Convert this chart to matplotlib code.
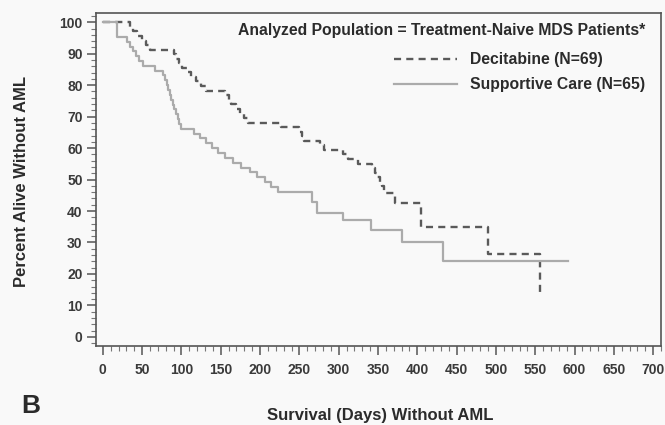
import matplotlib
matplotlib.use("Agg")
import matplotlib.pyplot as plt
from matplotlib.ticker import MultipleLocator

plt.rcParams['font.family'] = ['Liberation Sans', 'DejaVu Sans']
plt.rcParams['font.weight'] = 'bold'

# Kaplan-Meier steps: (day, percent alive without AML after the event)
deci_days = [0, 34, 39, 44, 50, 55, 60, 90, 93, 97, 101, 107, 112, 118, 125, 131,
             156, 160, 163, 169, 175, 180, 185, 227, 250, 253, 256, 276, 281, 305,
             312, 325, 343, 346, 349, 352, 355, 358, 372, 405, 490, 556]
deci_vals = [100, 98.6, 97.1, 95.7, 94.2, 92.8, 91.3, 89.9, 88.4, 87.0, 85.5, 84.1,
             82.6, 81.2, 79.7, 78.3, 76.8, 75.4, 73.9, 72.5, 71.0, 69.6, 68.1, 66.7,
             65.2, 63.8, 62.3, 60.9, 59.4, 58.0, 56.5, 55.1, 53.6, 52.2, 50.7, 49.3,
             47.8, 45.7, 42.6, 35.0, 26.4, 13.2]
deci_end = 556

supp_days = [0, 18, 31, 34, 38, 42, 46, 51, 66, 77, 79, 81, 83, 85, 87, 89, 91, 93,
             95, 97, 99, 116, 124, 131, 139, 147, 156, 165, 176, 187, 196, 206,
             214, 223, 266, 272, 305, 341, 380, 433]
supp_vals = [100, 95.4, 93.8, 92.3, 90.8, 89.2, 87.7, 86.2, 84.6, 83.1, 81.5, 80.0,
             78.5, 76.9, 75.4, 73.8, 72.3, 70.8, 69.2, 67.7, 66.2, 64.6, 63.1, 61.5,
             60.0, 58.5, 56.9, 55.4, 53.8, 52.3, 50.8, 49.2, 47.7, 46.2, 42.8, 39.5,
             37.0, 33.9, 30.2, 24.1]
supp_end = 592

labels = ['Decitabine (N=69)', 'Supportive Care (N=65)']
header = 'Analyzed Population = Treatment-Naive MDS Patients*'

bg = '#f9f9f9'
txt = '#2b2b2b'

fig = plt.figure(figsize=(6.65, 4.25), dpi=100, facecolor=bg)
ax = fig.add_axes([0.144, 0.186, 0.850, 0.783], facecolor=bg)

l1, = ax.step(deci_days + [deci_end], deci_vals + [deci_vals[-1]], where='post',
              color='#5a5a5a', lw=1.7, dashes=(3, 2.2))
l2, = ax.step(supp_days + [supp_end], supp_vals + [supp_vals[-1]], where='post',
              color='#ababab', lw=1.6)

ax.set_xlim(-9, 710)
ax.set_ylim(-2.9, 102.9)
ax.xaxis.set_major_locator(MultipleLocator(50))
ax.xaxis.set_minor_locator(MultipleLocator(10))
ax.yaxis.set_major_locator(MultipleLocator(10))
ax.yaxis.set_minor_locator(MultipleLocator(2))
ax.tick_params(which='major', length=6.5, width=1.1, color='#555555',
               labelsize=10, labelcolor='#3a3a3a')
ax.tick_params(axis='x', which='major', pad=6)
ax.tick_params(axis='y', which='major', pad=3)
ax.tick_params(which='minor', length=3.5, width=0.8, color='#777777')
for s in ax.spines.values():
    s.set_color('#555555')
    s.set_linewidth(1.2)

ax.set_ylabel('Percent Alive Without AML', fontsize=12, fontweight='bold', color=txt)
ax.set_xlabel('Survival (Days) Without AML', fontsize=12, fontweight='bold', color=txt)
ax.yaxis.set_label_coords(-0.118, 0.495)
ax.xaxis.set_label_coords(0.504, -0.185)
fig.text(0.032, 0.028, 'B', fontsize=19, fontweight='bold', color=txt)

ax.text(0.973, 0.949, header, transform=ax.transAxes, ha='right', va='center',
        fontsize=11.3, color=txt)
leg = ax.legend([l1, l2], labels, loc='upper right', bbox_to_anchor=(0.985, 0.906),
                frameon=False, fontsize=11.3, handlelength=4.0, handletextpad=0.8,
                labelspacing=0.62, borderpad=0)
for t in leg.get_texts():
    t.set_color(txt)

fig.savefig('out.png', dpi=100, facecolor=bg)
